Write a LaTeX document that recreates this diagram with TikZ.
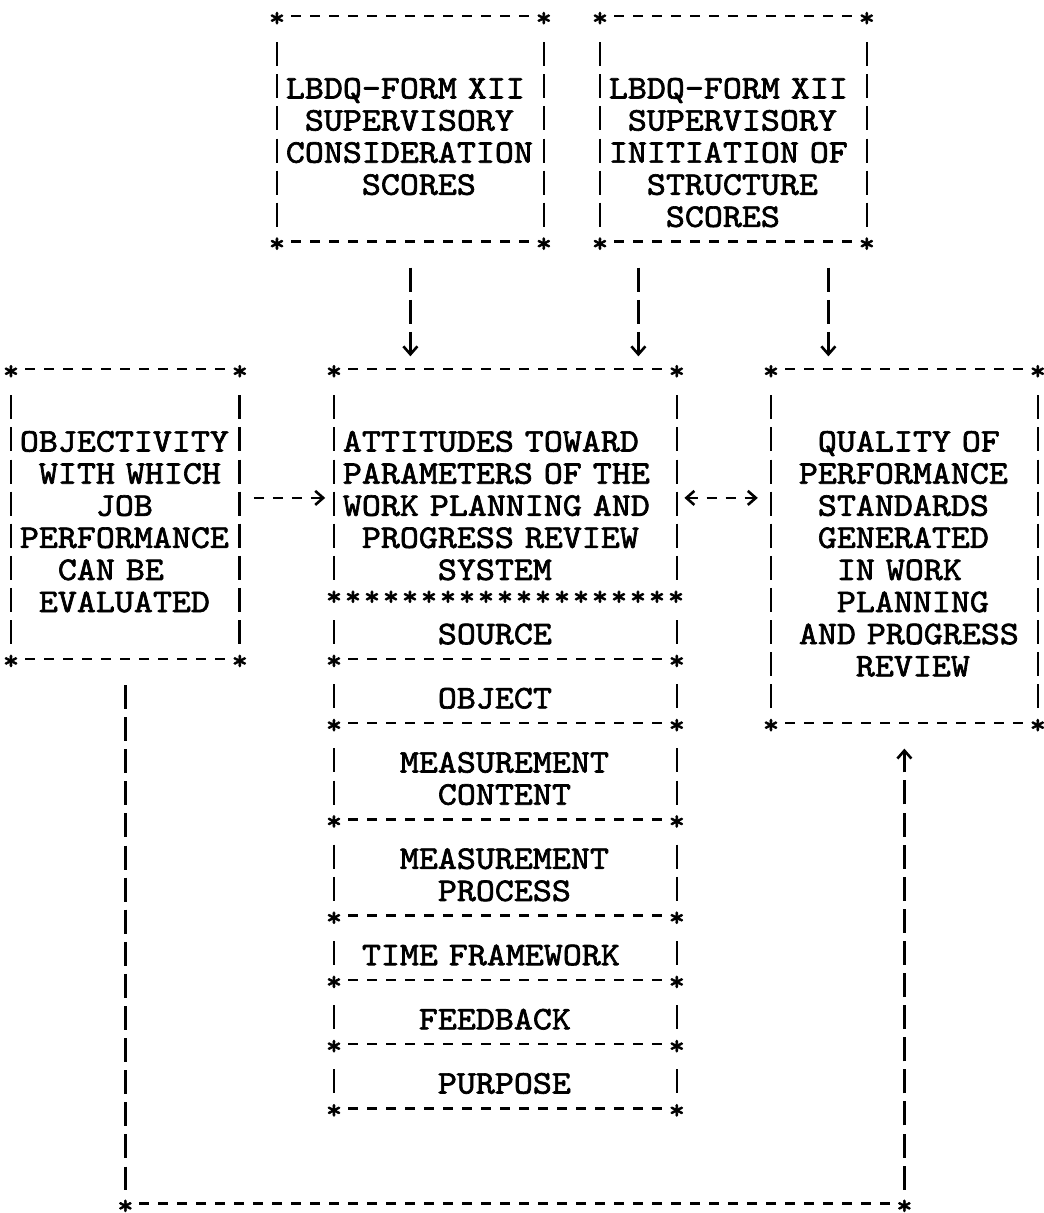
\documentclass[tikz,border=0pt]{standalone}
\usepackage{fontspec}
\usetikzlibrary{arrows.meta}

\newfontfamily\boxtt{lmmono10-regular.otf}[FakeBold=2, FakeStretch=1.0967]
\newlength\colw \setlength\colw{9.5pt}
\newlength\rowh \setlength\rowh{16.05pt}
\setlength\parindent{0pt}
\setlength\parskip{0pt}
\newcommand\rowstrut{\rule{0pt}{18.05pt}}
\newcommand\lpad[1]{\hspace*{#1\colw}}
% borders drawn the typewriter way: dashes, bars and stars
\newcommand\topedge[1]{%
  \draw[hdash] ([xshift=0.7375\colw]#1.north west) -- ([xshift=-0.7375\colw]#1.north east);
  \node[starmark] (#1-nw) at (#1.north west) {*};
  \node[starmark] (#1-ne) at (#1.north east) {*};}
\newcommand\botedge[1]{%
  \draw[hdash] ([xshift=0.7375\colw]#1.south west) -- ([xshift=-0.7375\colw]#1.south east);
  \node[starmark] (#1-sw) at (#1.south west) {*};
  \node[starmark] (#1-se) at (#1.south east) {*};}
\newcommand\boxsides[1]{%
  \draw[vdash] ([yshift=-0.817\rowh]#1.north west) -- ([yshift=0.437\rowh]#1.south west);
  \draw[vdash] ([yshift=-0.817\rowh]#1.north east) -- ([yshift=0.437\rowh]#1.south east);}

\begin{document}
\begin{tikzpicture}[x=\colw, y=-\rowh,
  box/.style={anchor=north west, inner xsep=4.25pt, inner ysep=0pt, align=left,
    font=\boxtt\fontsize{16.5pt}{16.05pt}\selectfont,
    execute at begin node={\noindent\rowstrut}},
  starmark/.style={inner sep=0pt, yshift=-1.7pt, font=\boxtt\fontsize{14pt}{14pt}\selectfont},
  hdash/.style={line width=1.3pt, dash pattern=on 5pt off 4.5pt},
  vdash/.style={line width=1.3pt, dash pattern=on 12pt off 4.05pt},
  headto/.style={-{Straight Barb[length=4pt, width=7pt]}},
  headboth/.style={{Straight Barb[length=4pt, width=7pt]}-{Straight Barb[length=4pt, width=7pt]}},
  vlink/.style={vdash, headto},
  hlink/.style={hdash, headto}]
  \fill[white] (-0.5789,-0.4984) rectangle (54.368,37.29);
  \useasboundingbox (-0.5789,-0.4984) rectangle (54.368,37.29);

  % the two LBDQ boxes
  \node[box, text width=124.5pt, minimum height=7\rowh] (consid) at (14,0)
    {LBDQ-FORM XII\\ \lpad1SUPERVISORY\\ CONSIDERATION\\ \lpad4SCORES};
  \node[box, text width=124.5pt, minimum height=7\rowh] (initiat) at (31,0)
    {\\ LBDQ-FORM XII\\ \lpad1SUPERVISORY\\ INITIATION OF\\ \lpad2STRUCTURE\\ \lpad3SCORES};

  % left, middle and right boxes
  \node[box, text width=105.5pt, minimum height=9\rowh] (objectivity) at (0,11)
    {OBJECTIVITY\\ \lpad1WITH WHICH\\ \lpad4JOB\\ PERFORMANCE\\ \lpad2CAN BE\\ \lpad1EVALUATED};
  \node[box, text width=162.5pt, minimum height=7\rowh] (attit) at (17,11)
    {\\ ATTITUDES TOWARD\\ PARAMETERS OF THE\\ WORK PLANNING AND\\ \lpad1PROGRESS REVIEW\\ \lpad5SYSTEM};
  \node[box, text width=124.5pt, minimum height=11\rowh] (quality) at (40,11)
    {\lpad2QUALITY OF\\ \lpad1PERFORMANCE\\ \lpad2STANDARDS\\ \lpad2GENERATED\\ \lpad3IN WORK\\
     \lpad3PLANNING\\ \lpad1AND PROGRESS\\ \lpad4REVIEW};

  % the parameters under the middle box
  \node[box, text width=162.5pt, minimum height=2\rowh] (source) at (17,18) {\lpad5SOURCE};
  \node[box, text width=162.5pt, minimum height=2\rowh] (object) at (17,20) {\lpad5OBJECT};
  \node[box, text width=162.5pt, minimum height=3\rowh] (mcontent) at (17,22)
    {\lpad3MEASUREMENT\\ \lpad5CONTENT};
  \node[box, text width=162.5pt, minimum height=3\rowh] (mprocess) at (17,25)
    {\lpad3MEASUREMENT\\ \lpad5PROCESS};
  \node[box, text width=162.5pt, minimum height=2\rowh] (timefw) at (17,28) {\lpad1TIME FRAMEWORK};
  \node[box, text width=162.5pt, minimum height=2\rowh] (feedback) at (17,30) {\lpad4FEEDBACK};
  \node[box, text width=162.5pt, minimum height=2\rowh] (purpose) at (17,32) {\lpad5PURPOSE};

  % frames
  \topedge{consid} \boxsides{consid} \botedge{consid}
  \topedge{initiat} \boxsides{initiat} \botedge{initiat}
  \topedge{objectivity} \boxsides{objectivity} \botedge{objectivity}
  \topedge{quality} \boxsides{quality} \botedge{quality}
  \topedge{attit} \boxsides{attit}
  \foreach \i in {0,...,18}
    \node[starmark] (sep\i) at ([xshift=\i\colw]attit.south west) {*};
  \foreach \part in {source,object,mcontent,mprocess,timefw,feedback,purpose} {
    \boxsides{\part} \botedge{\part}
  }

  % arrows
  \draw[vlink, shorten >=6.4pt] ([yshift=-0.817\rowh]consid.south) -- (consid.south |- attit.north);
  \draw[vlink, shorten >=6.4pt] ([xshift=-5\colw, yshift=-0.817\rowh]initiat.south)
    -- ([xshift=-5\colw]initiat.south |- attit.north);
  \draw[vlink, shorten >=6.4pt] ([xshift=5\colw, yshift=-0.817\rowh]initiat.south)
    -- ([xshift=5\colw]initiat.south |- quality.north);
  \draw[hlink, shorten >=4.4pt] ([xshift=0.7375\colw, yshift=0.5\rowh]objectivity.east)
    -- ([yshift=0.5\rowh]objectivity.east -| attit.west);
  \draw[hdash, headboth, shorten >=6.6pt] ([xshift=0.4\colw, yshift=-0.5\rowh]attit.east)
    -- ([yshift=-0.5\rowh]attit.east -| quality.west);

  % feedback loop along the bottom
  \coordinate (loopl) at (objectivity.south |- 0,37);
  \coordinate (loopr) at (quality.south |- loopl);
  \draw[vdash] ([yshift=-0.817\rowh]objectivity.south) -- ([yshift=0.437\rowh]loopl);
  \draw[hdash] ([xshift=0.7375\colw]loopl) -- ([xshift=-0.7375\colw]loopr);
  \node[starmark] (cornl) at (loopl) {*};
  \node[starmark] (cornr) at (loopr) {*};
  \draw[vlink, shorten >=12.8pt] ([yshift=0.437\rowh]loopr) -- (quality.south);
\end{tikzpicture}
\end{document}
